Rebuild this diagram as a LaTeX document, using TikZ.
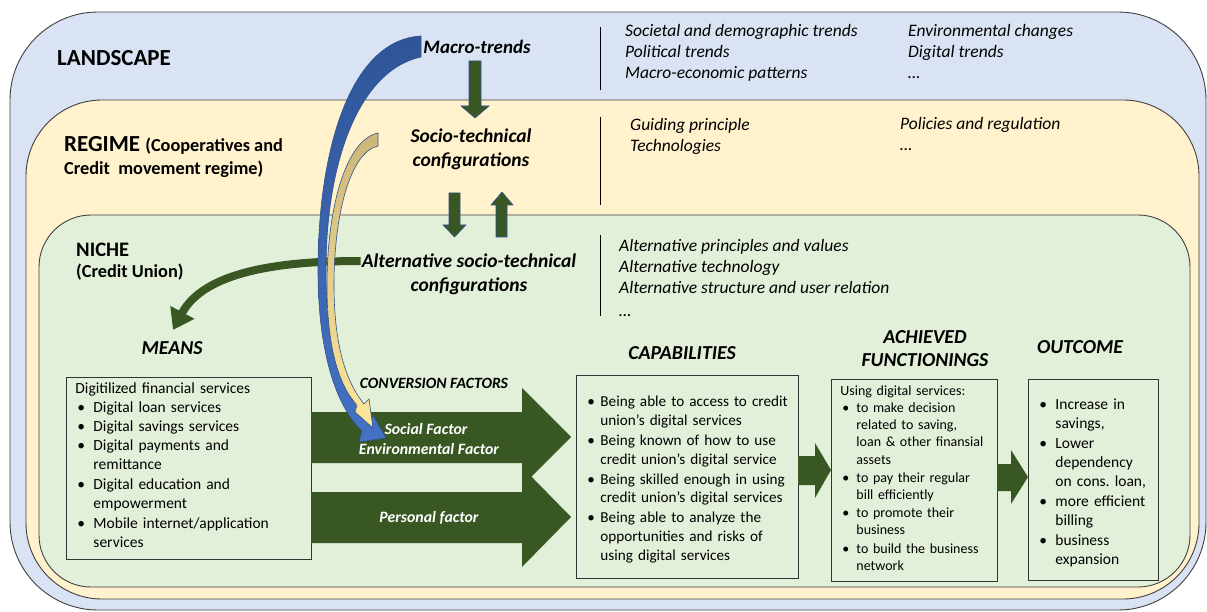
\documentclass[tikz,border=0pt]{standalone}
\usepackage{fontspec}
\setmainfont{Carlito}
\usetikzlibrary{arrows.meta}
\frenchspacing

\definecolor{landblue}{RGB}{218,227,243}
\definecolor{regimecream}{RGB}{255,242,204}
\definecolor{nichegreen}{RGB}{226,240,217}
\definecolor{darkgreen}{RGB}{56,87,35}
\definecolor{edgeblue}{RGB}{47,82,143}
\definecolor{trendblue}{RGB}{47,85,151}
\definecolor{trendlight}{RGB}{68,114,196}
\definecolor{goldtan}{RGB}{204,183,122}
\definecolor{goldlight}{RGB}{255,230,153}

% bullet line; the optional argument is the gap between bullet and text
\newcommand\dotitem[2][16pt]{\par\noindent\hspace*{2pt}\makebox[#1][l]{\textbullet}\begin{tabular}[t]{@{}l@{}}#2\end{tabular}}

\tikzset{
  layer/.style={draw=black!75, line width=0.9pt},
  divider/.style={draw=black, line width=0.8pt},
  levelname/.style={font=\fontsize{23}{27}\selectfont\bfseries, anchor=base west, inner sep=0pt},
  levelsub/.style={font=\fontsize{18.3}{22}\selectfont\bfseries, anchor=base west, inner sep=0pt},
  trends/.style={font=\fontsize{17.5}{21}\selectfont\itshape, align=left, anchor=west, inner sep=0pt},
  config/.style={font=\fontsize{19.5}{24}\selectfont\bfseries\itshape, align=center, inner sep=0pt},
  stage/.style={font=\fontsize{19.8}{23.3}\selectfont\bfseries\itshape, align=center, inner sep=0pt},
  itembox/.style={draw=black!80, fill=nichegreen, line width=0.9pt, anchor=north west, align=left,
    inner ysep=0pt, inner xsep=9pt, font=\fontsize{15.5}{19}\selectfont},
  factor/.style={text=white, font=\fontsize{15.8}{18}\selectfont\bfseries\itshape, inner sep=0pt},
  bigarrow/.style={fill=darkgreen},
  flowarrow/.style={fill=darkgreen, draw=edgeblue, line width=0.6pt},
}

\begin{document}
\begin{tikzpicture}[x=1pt,y=-1pt]
\useasboundingbox (0,0) rectangle (1207,612);

% the three nested levels
\draw[layer, fill=landblue, rounded corners=88pt] (10,12) rectangle (1206,610);
\draw[layer, fill=regimecream, rounded corners=76pt] (26,100) rectangle (1199,599);
\draw[layer, fill=nichegreen, rounded corners=52pt] (39,215) rectangle (1190,587);

\draw[divider] (600,27) -- (600,90);
\draw[divider] (600,117) -- (600,205);
\draw[divider] (600,235) -- (600,316);

% level names
\node[levelname] (landscape) at (57,65.5) {LANDSCAPE};
\node[levelname] (regime) at (64,151.7) {REGIME {\fontsize{18.3}{22}\selectfont(Cooperatives and}};
\node[levelsub] (regimesub) at (64,174.5) {Credit\ \ movement regime)};
\node[levelname, font=\fontsize{20.6}{26}\selectfont\bfseries] (niche) at (76,256.5) {NICHE};
\node[levelsub] (nichesub) at (76,277) {(Credit Union)};

% what each level holds
\node[trends] (landa) at (625,53.3) {Societal and demographic trends\\Political trends\\Macro-economic patterns};
\node[trends] (landb) at (908,51) {Environmental changes\\Digital trends\\\ldots};
\node[trends] (rega) at (630,136.3) {Guiding principle\\Technologies};
\node[trends] (regb) at (900,133.7) {Policies and regulation\\\ldots};
\node[trends] (nichea) at (619,277.5) {Alternative principles and values\\Alternative technology\\Alternative structure and user relation\\[2pt]\ldots};

\node[config, font=\fontsize{19}{22}\selectfont\bfseries\itshape] (macro) at (477,46.5) {Macro-trends};
\node[config] (sociotech) at (471,149) {Socio-technical\\configurations};
\node[config] (alttech) at (469,274) {Alternative socio-technical\\configurations};

% stages
\node[stage] (means) at (172,348.3) {MEANS};
\node[stage] (capab) at (682,352.6) {CAPABILITIES};
\node[stage] (achieved) at (925,348.3) {ACHIEVED\\FUNCTIONINGS};
\node[stage] (outcome) at (1080,346.7) {OUTCOME};
\node[stage, font=\fontsize{15.7}{18}\selectfont\bfseries\itshape] (convlabel) at (434,383.3) {CONVERSION FACTORS};

\node[itembox, text width=227pt, minimum height=182pt] (meansbox) at (66,377) {%
  Digitilized financial services
  \dotitem{Digital loan services}
  \dotitem{Digital savings services}
  \dotitem{Digital payments and\\remittance}
  \dotitem{Digital education and\\empowerment}
  \dotitem{Mobile internet/application\\services}};
\node[itembox, text width=204pt, minimum height=203pt, font=\fontsize{15.2}{18.8}\selectfont] (capabbox) at (576,375) {%
  \dotitem[13pt]{Being able to access to credit\\union's digital services}
  \dotitem[13pt]{Being known of how to use\\credit union's digital service}
  \dotitem[13pt]{Being skilled enough in using\\credit union's digital services}
  \dotitem[13pt]{Being able to analyze the\\opportunities and risks of\\using digital services}};
\node[itembox, text width=148pt, minimum height=202pt, font=\fontsize{14}{17.2}\selectfont] (achievedbox) at (831,379) {%
  Using digital services:
  \dotitem[14pt]{to make decision\\related to saving,\\loan \& other finansial\\assets}
  \dotitem[14pt]{to pay their regular\\bill efficiently}
  \dotitem[14pt]{to promote their\\business}
  \dotitem[14pt]{to build the business\\network}};
\node[itembox, text width=112pt, minimum height=201pt] (outcomebox) at (1028,379) {%
  \dotitem{Increase in\\savings,}
  \dotitem{Lower\\dependency\\on cons. loan,}
  \dotitem{more efficient\\billing}
  \dotitem{business\\expansion}};

% conversion factors
\fill[bigarrow] (311,492) -- (522,492) -- (522,467) -- (571,517) -- (522,567) -- (522,543) -- (311,543) -- cycle;
\fill[bigarrow] (311,412) -- (522,412) -- (522,388) -- (571,437) -- (522,486) -- (522,463) -- (311,463) -- cycle;
\node[factor] (social) at (426,428.7) {Social Factor};
\node[factor] (environ) at (429,448.7) {Environmental Factor};
\node[factor] (personal) at (429,518.3) {Personal factor};

\fill[bigarrow] (798,456) -- (815,456) -- (815,443) -- (831,470) -- (815,498) -- (815,485) -- (798,485) -- cycle;
\fill[bigarrow] (997,464) -- (1011,464) -- (1011,450) -- (1028,477) -- (1011,504) -- (1011,491) -- (997,491) -- cycle;

% between the levels
\filldraw[flowarrow] (469,61) -- (481,61) -- (481,106) -- (489,106) -- (475,118) -- (461,106) -- (469,106) -- cycle;
\filldraw[flowarrow] (449,193) -- (460,193) -- (460,225) -- (466,225) -- (454.5,237) -- (443,225) -- (449,225) -- cycle;
\filldraw[flowarrow] (496,237) -- (507,237) -- (507,205) -- (513,205) -- (502,192) -- (491,205) -- (496,205) -- cycle;

\draw[darkgreen, line width=8pt, -{Triangle[length=20pt,width=26pt]}]
  (alttech.west |- 0,261) ++(-1,0) .. controls (285,261) and (205,270) .. (173,330);

% landscape and regime pressure on the conversion factors
\draw[draw=edgeblue, line width=0.6pt, top color=trendblue, bottom color=trendlight]
  (421,36) .. controls (350,40) and (318,150) .. (318,270)
  .. controls (318,350) and (335,405) .. (362,431) -- (359,442) -- (386,438) -- (373,415) -- (370,423)
  .. controls (342,395) and (326,350) .. (326,270)
  .. controls (326,160) and (360,70) .. (421,57) -- cycle;
\draw[draw=edgeblue, line width=0.6pt, top color=goldtan, bottom color=goldlight]
  (378,133) .. controls (345,140) and (327,210) .. (327,285)
  .. controls (327,345) and (338,385) .. (357,405) -- (355,412) -- (373,428) -- (369,399) -- (364,404)
  .. controls (346,382) and (334,345) .. (334,285)
  .. controls (334,215) and (350,152) .. (378,146) -- cycle;
\end{tikzpicture}
\end{document}
